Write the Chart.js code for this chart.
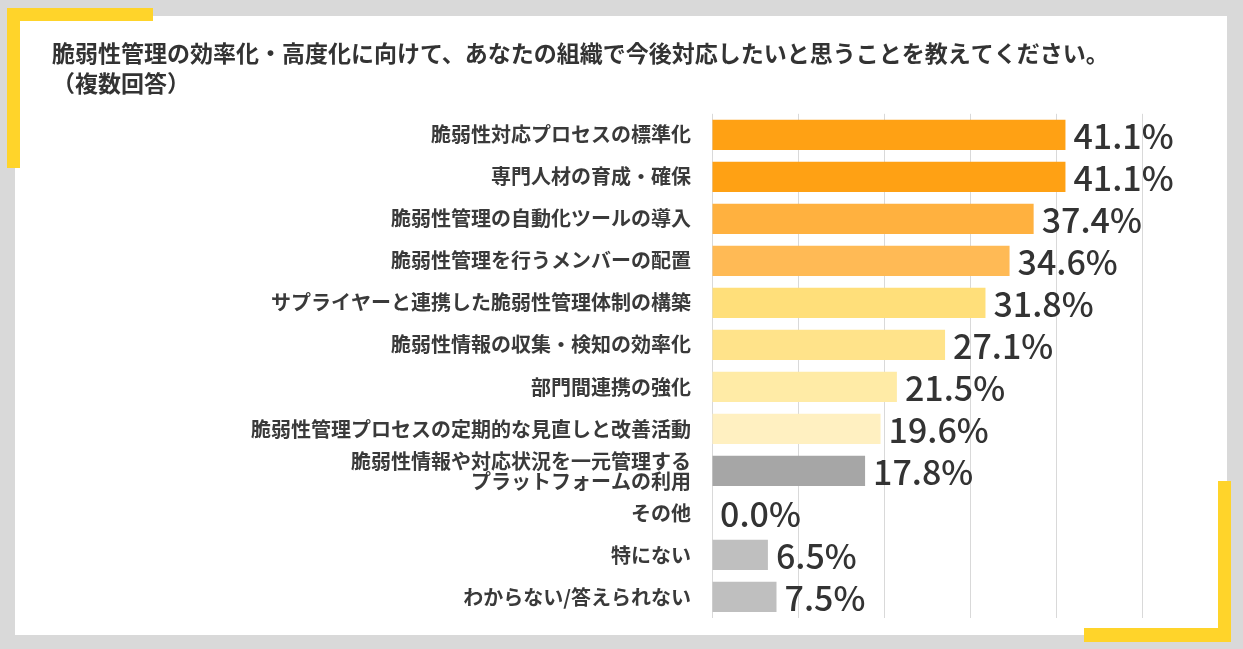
<!DOCTYPE html>
<html lang="ja">
<head>
<meta charset="UTF-8">
<title>脆弱性管理の効率化・高度化</title>
<style>
  html, body { margin: 0; padding: 0; }
  body { width: 1243px; height: 649px; background: #d9d9d9; position: relative; overflow: hidden; }
  .panel { position: absolute; left: 15px; top: 16px; width: 1212px; height: 619px; background: #fff; }
  .ylw { position: absolute; background: #ffd42a; }
  #chart { position: absolute; left: 0; top: 0; }
</style>
</head>
<body>
<div class="panel"></div>
<div class="ylw" style="left:7px;top:8px;width:146px;height:13px;"></div>
<div class="ylw" style="left:7px;top:8px;width:13px;height:160px;"></div>
<div class="ylw" style="left:1218px;top:481px;width:13px;height:161px;"></div>
<div class="ylw" style="left:1084px;top:628px;width:147px;height:14px;"></div>
<canvas id="chart" width="1243" height="649"></canvas>

<script src="https://cdn.jsdelivr.net/npm/chart.js"></script>
<script>
const titleLines = [
  '脆弱性管理の効率化・高度化に向けて、あなたの組織で今後対応したいと思うことを教えてください。',
  '（複数回答）'
];
const categories = [
  '脆弱性対応プロセスの標準化',
  '専門人材の育成・確保',
  '脆弱性管理の自動化ツールの導入',
  '脆弱性管理を行うメンバーの配置',
  'サプライヤーと連携した脆弱性管理体制の構築',
  '脆弱性情報の収集・検知の効率化',
  '部門間連携の強化',
  '脆弱性管理プロセスの定期的な見直しと改善活動',
  ['脆弱性情報や対応状況を一元管理する', 'プラットフォームの利用'],
  'その他',
  '特にない',
  'わからない/答えられない'
];
const values = [41.1, 41.1, 37.4, 34.6, 31.8, 27.1, 21.5, 19.6, 17.8, 0.0, 6.5, 7.5];
const barColors = [
  '#ffa114', '#ffa114', '#ffb13f', '#ffba55', '#ffdf7a', '#ffe38a',
  '#ffeba6', '#fff0c1', '#a6a6a6', '#bfbfbf', '#bfbfbf', '#bfbfbf'
];

const FONT = "'Noto Sans CJK JP', 'Noto Sans', sans-serif";

// percent labels at the end of each bar
const valueLabels = {
  id: 'valueLabels',
  afterDatasetsDraw(chart) {
    const ctx = chart.ctx;
    const meta = chart.getDatasetMeta(0);
    ctx.save();
    ctx.font = '500 34px ' + FONT;
    ctx.fillStyle = '#333333';
    ctx.textAlign = 'left';
    ctx.textBaseline = 'middle';
    meta.data.forEach((bar, i) => {
      ctx.fillText(values[i].toFixed(1) + '%', bar.x + 8, bar.y + 1);
    });
    ctx.restore();
  }
};

new Chart(document.getElementById('chart'), {
  type: 'bar',
  data: {
    labels: categories,
    datasets: [{
      data: values,
      backgroundColor: barColors,
      borderWidth: 0,
      barPercentage: 0.72,
      categoryPercentage: 1.0
    }]
  },
  options: {
    indexAxis: 'y',
    responsive: false,
    animation: false,
    devicePixelRatio: 1,
    layout: { padding: { left: 52, right: 101, top: 38, bottom: 26 } },
    plugins: {
      legend: { display: false },
      tooltip: { enabled: false },
      title: {
        display: true,
        text: titleLines,
        align: 'start',
        color: '#333333',
        font: { family: FONT, size: 23, weight: 'bold', lineHeight: 1.3 },
        padding: { top: 0, bottom: 16 }
      }
    },
    scales: {
      x: {
        min: 0,
        max: 50,
        afterFit(scale) { scale.height = 0; },
        ticks: { display: false, stepSize: 10 },
        grid: { color: '#d9d9d9', lineWidth: 1, drawTicks: false },
        border: { display: false }
      },
      y: {
        grid: { display: false, drawTicks: false },
        border: { display: false },
        afterFit(scale) { scale.width = 712 - 52; },
        ticks: {
          autoSkip: false,
          color: '#3a3a3a',
          padding: 21,
          font: { family: FONT, size: 20, weight: 'bold', lineHeight: 1.0 }
        }
      }
    }
  },
  plugins: [valueLabels]
});
</script>
</body>
</html>
